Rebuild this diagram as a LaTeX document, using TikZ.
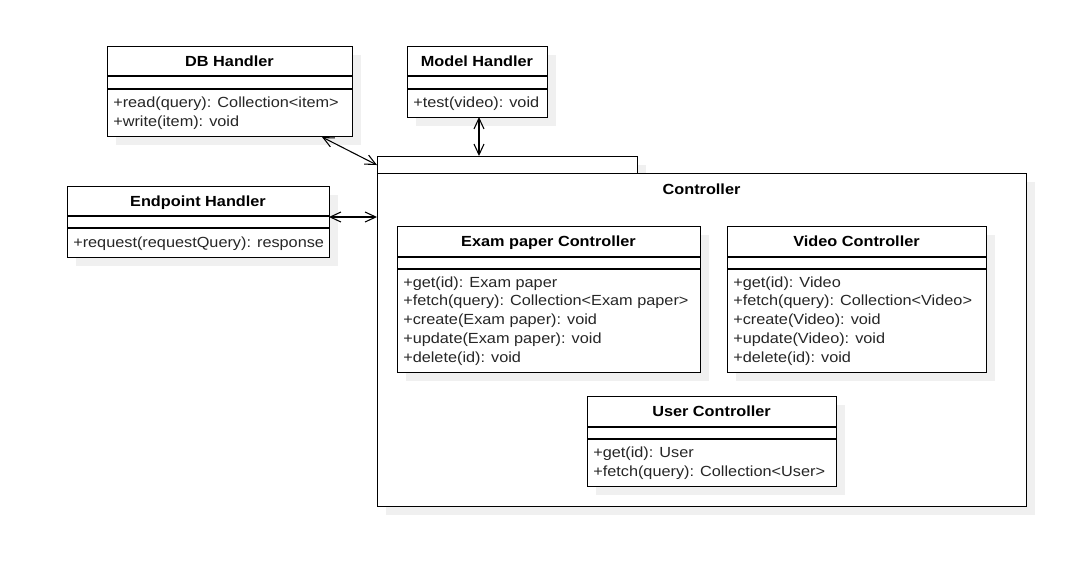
\documentclass[tikz,border=0pt]{standalone}
\usepackage{fontspec}
\setmainfont[FakeStretch=1.11]{Liberation Sans}
\usetikzlibrary{arrows.meta}
\usetikzlibrary{shadows}

\begin{document}
\begin{tikzpicture}[x=0.75pt, y=-0.75pt,
  box/.style={draw, fill=white, line width=0.8pt, inner sep=0pt, anchor=north west,
    drop shadow={shadow xshift=6pt, shadow yshift=-6pt, fill=black!6, opacity=1}},
  sep/.style={line width=0.8pt},
  ctitle/.style={font=\bfseries\fontsize{11}{13}\selectfont, anchor=base, inner sep=0pt},
  cmeth/.style={font=\fontsize{11}{13}\selectfont, anchor=base west, inner sep=0pt, text=black!85},
  assoc/.style={line width=0.8pt, {Straight Barb[length=8pt, width=7.5pt]}-{Straight Barb[length=8pt, width=7.5pt]}}
]

\def\pxl{0.75pt}

\useasboundingbox (0,0) rectangle (1077,572);

% DB Handler
\node[box, minimum width=245*\pxl, minimum height=90*\pxl] (db) at (107,46) {};
\draw[sep] (107,76) -- (352,76);
\draw[sep] (107,89) -- (352,89);
\node[ctitle] (db-t) at (229.5,66) {DB Handler};
\foreach \m [count=\i] in {{+read(query): Collection<item>}, {+write(item): void}}
  \node[cmeth] (db-m\i) at (113,{88+19*\i}) {\m};

% Model Handler
\node[box, minimum width=140*\pxl, minimum height=71*\pxl] (mh) at (407,46) {};
\draw[sep] (407,76) -- (547,76);
\draw[sep] (407,89) -- (547,89);
\node[ctitle] (mh-t) at (477,66) {Model Handler};
\node[cmeth] (mh-m1) at (413,107) {+test(video): void};

% Endpoint Handler
\node[box, minimum width=262*\pxl, minimum height=71*\pxl] (eh) at (67,186) {};
\draw[sep] (67,216) -- (329,216);
\draw[sep] (67,228) -- (329,228);
\node[ctitle] (eh-t) at (198,206) {Endpoint Handler};
\node[cmeth] (eh-m1) at (73,247) {+request(requestQuery): response};

% Controller package
\node[box, minimum width=260*\pxl, minimum height=17*\pxl] (ctab) at (377,156) {};
\node[box, minimum width=649*\pxl, minimum height=333*\pxl] (cbody) at (377,173) {};
\node[ctitle] (cbody-t) at (701.5,194.5) {Controller};

% Exam paper Controller
\node[box, minimum width=303*\pxl, minimum height=146*\pxl] (ep) at (397,226) {};
\draw[sep] (397,257) -- (700,257);
\draw[sep] (397,269) -- (700,269);
\node[ctitle] (ep-t) at (548.5,246) {Exam paper Controller};
\foreach \m [count=\i] in {{+get(id): Exam paper}, {+fetch(query): Collection<Exam paper>},
    {+create(Exam paper): void}, {+update(Exam paper): void}, {+delete(id): void}}
  \node[cmeth] (ep-m\i) at (403,{268.25+18.75*\i}) {\m};

% Video Controller
\node[box, minimum width=259*\pxl, minimum height=146*\pxl] (vc) at (727,226) {};
\draw[sep] (727,257) -- (986,257);
\draw[sep] (727,269) -- (986,269);
\node[ctitle] (vc-t) at (856.5,246) {Video Controller};
\foreach \m [count=\i] in {{+get(id): Video}, {+fetch(query): Collection<Video>},
    {+create(Video): void}, {+update(Video): void}, {+delete(id): void}}
  \node[cmeth] (vc-m\i) at (733,{268.25+18.75*\i}) {\m};

% User Controller
\node[box, minimum width=249*\pxl, minimum height=90*\pxl] (uc) at (587,396) {};
\draw[sep] (587,427) -- (836,427);
\draw[sep] (587,439) -- (836,439);
\node[ctitle] (uc-t) at (711.5,416) {User Controller};
\foreach \m [count=\i] in {{+get(id): User}, {+fetch(query): Collection<User>}}
  \node[cmeth] (uc-m\i) at (593,{438+19*\i}) {\m};

% associations
\coordinate (db-out) at (322,137);
\coordinate (mh-out) at (479,117);
\coordinate (eh-out) at (329,217);
\draw[assoc] (db-out) -- (ctab.west);
\draw[assoc] (mh-out) -- (mh-out |- ctab.north);
\draw[assoc] (eh-out) -- (eh-out -| cbody.west);

\end{tikzpicture}
\end{document}
